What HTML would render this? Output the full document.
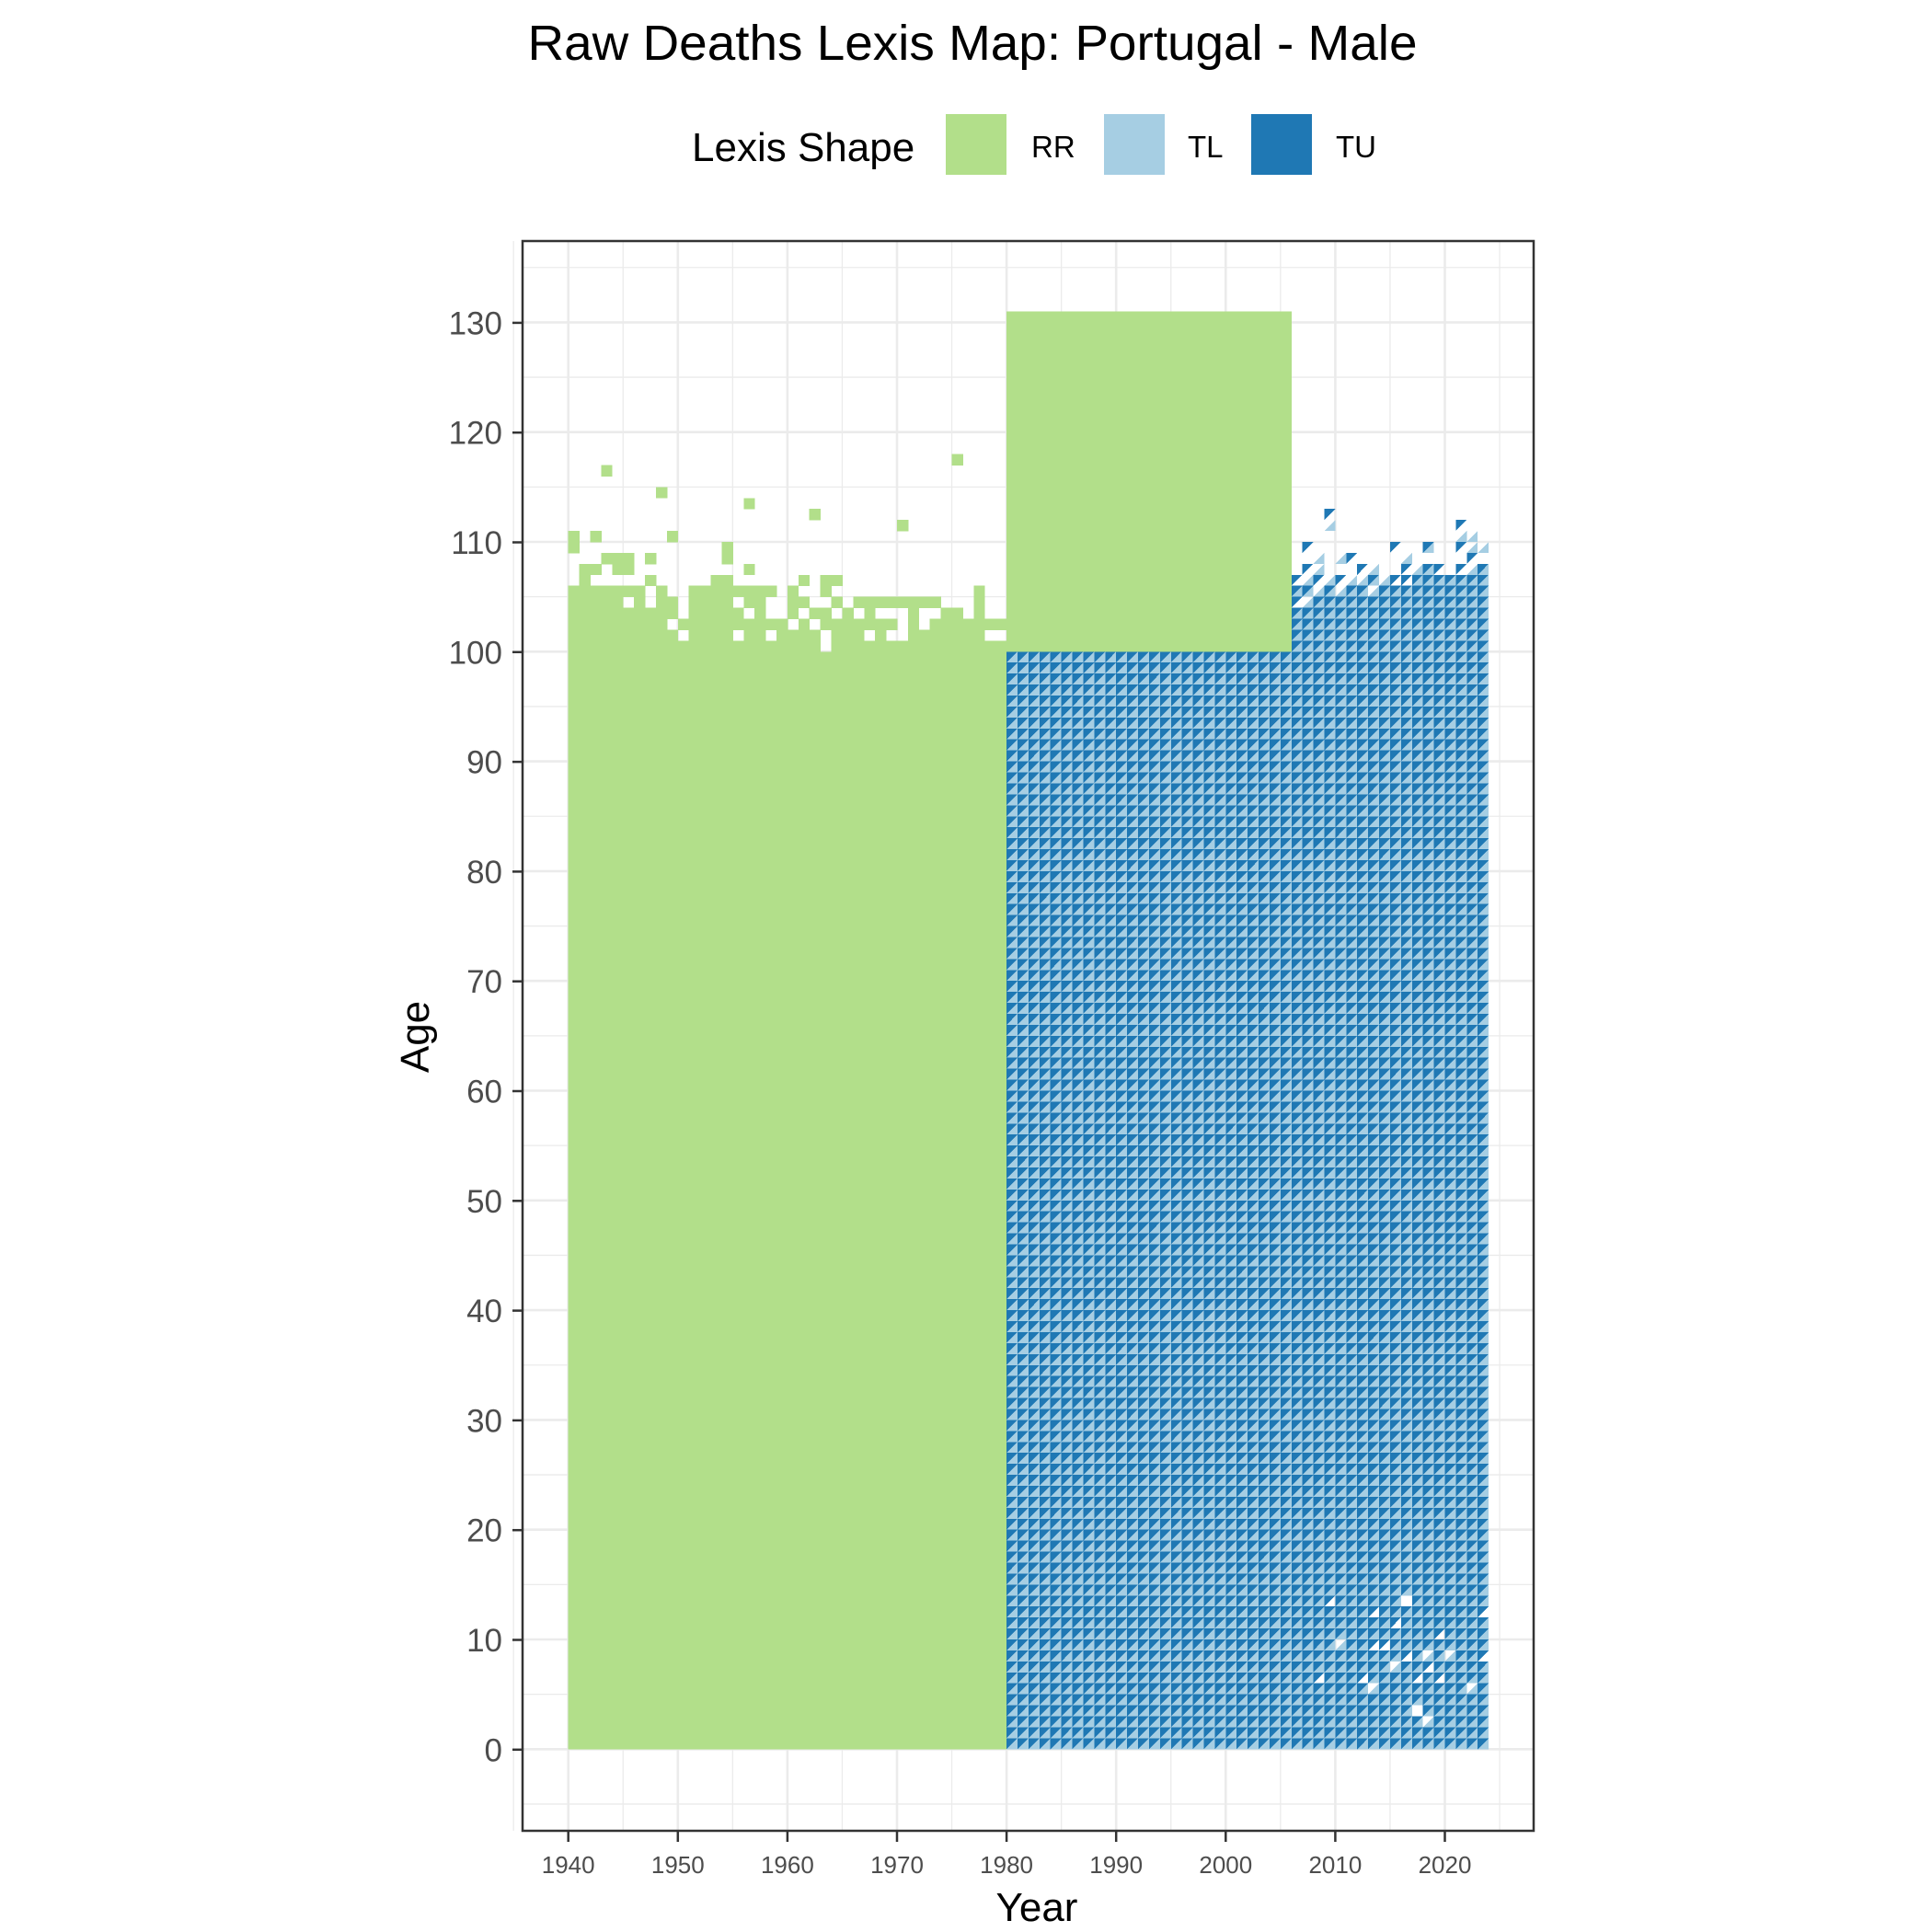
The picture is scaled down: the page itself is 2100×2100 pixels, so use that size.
<!DOCTYPE html>
<html><head><meta charset="utf-8"><title>Raw Deaths Lexis Map: Portugal - Male</title>
<style>html,body{margin:0;padding:0;background:#fff}svg{display:block}text{font-family:"Liberation Sans",Arial,sans-serif}</style>
</head><body>
<svg id="chart" xmlns="http://www.w3.org/2000/svg" width="2100" height="2100" viewBox="0 0 2100 2100">
<rect x="0" y="0" width="2100" height="2100" fill="#fff"/>
<text x="1057" y="65" font-size="54" text-anchor="middle" fill="#000" textLength="967" lengthAdjust="spacingAndGlyphs">Raw Deaths Lexis Map: Portugal - Male</text>
<g>
<text x="752" y="175" font-size="44" fill="#000">Lexis Shape</text>
<rect x="1028" y="124" width="66" height="66" fill="#b2df8a"/>
<text x="1121" y="171" font-size="33" fill="#000">RR</text>
<rect x="1200" y="124" width="66" height="66" fill="#a6cee3"/>
<text x="1291" y="171" font-size="33" fill="#000">TL</text>
<rect x="1360" y="124" width="66" height="66" fill="#1f78b4"/>
<text x="1452" y="171" font-size="33" fill="#000">TU</text>
</g>
<g id="grid"></g>
<g id="marks" shape-rendering="crispEdges"></g>
<rect x="568" y="262" width="1099" height="1728" fill="none" stroke="#333" stroke-width="2.5"/>
<g id="axes"></g>
<text x="1127" y="2088" font-size="44" text-anchor="middle" fill="#000">Year</text>
<text x="466" y="1127" font-size="44" text-anchor="middle" fill="#000" transform="rotate(-90 466 1127)">Age</text>
</svg>
<script>
// ---- data ----
const xTicks = [1940,1950,1960,1970,1980,1990,2000,2010,2020];
const yTicks = [0,10,20,30,40,50,60,70,80,90,100,110,120,130];
const rrYears = [1940,1941,1942,1943,1944,1945,1946,1947,1948,1949,1950,1951,1952,1953,1954,1955,1956,1957,1958,1959,1960,1961,1962,1963,1964,1965,1966,1967,1968,1969,1970,1971,1972,1973,1974,1975,1976,1977,1978,1979];
const rrBaseTop = 100;
const rrUpperAges = [
[100,101,102,103,104,105,109,110],[100,101,102,103,104,105,106,107],[100,101,102,103,104,105,107,110],[100,101,102,103,104,105,108,116],
[100,101,102,103,104,105,107,108],[100,101,102,103,105,107,108],[100,101,102,103,104,105],[100,101,102,103,106,108],
[100,101,102,103,104,105,114],[100,101,103,104,110],[100,102],[100,101,102,103,104,105],
[100,101,102,103,104,105],[100,101,102,103,104,105,106],[100,101,102,103,104,105,106,108,109],[100,102,103,105],
[100,101,102,104,105,107,113],[100,101,102,103,104,105],[100,102,105],[100,101,102],
[100,101,103,104,105],[100,101,102,104,106],[100,101,103,112],[102,103,105,106],
[100,101,102,104,106],[100,101,102,103],[100,101,102,104],[100,102,103,104],
[100,101,102,104],[100,102,104],[100,104,111],[100,101,102,103,104],
[100,101,104],[100,101,102,104],[100,101,102,103],[100,101,102,103,117],
[100,101,102],[100,101,102,103,104,105],[100,102],[100,102]
];
const rrBlock = [1980, 2006, 100, 131]; // year start, year end, age start, age end
const blueYears = [];
for (let y = 1980; y <= 2023; y++) blueYears.push(y);
const blueFullTop = [100,100,100,100,100,100,100,100,100,100,100,100,100,100,100,100,100,100,100,100,100,100,100,100,100,100,
104,104,105,105,105,105,105,105,105,106,106,107,107,106,107,107,107,107];
const blueExtra = [
[2006,104,'U'],[2006,105,'B'],[2006,106,'U'],
[2007,104,'L'],[2007,105,'B'],[2007,106,'L'],[2007,107,'U'],[2007,109,'U'],
[2008,105,'L'],[2008,106,'U'],[2008,107,'L'],[2008,108,'L'],
[2009,105,'B'],[2009,106,'L'],[2009,111,'L'],[2009,112,'U'],
[2010,105,'L'],[2010,106,'U'],[2010,108,'L'],
[2011,105,'B'],[2011,106,'L'],[2011,108,'U'],
[2012,105,'B'],[2012,106,'L'],[2012,107,'U'],
[2013,105,'L'],[2013,106,'B'],[2013,107,'L'],
[2014,105,'B'],[2014,106,'L'],
[2015,106,'U'],[2015,109,'U'],
[2016,106,'U'],[2016,107,'U'],[2016,108,'L'],
[2017,107,'L'],
[2018,107,'B'],[2018,109,'B'],
[2019,106,'B'],[2019,107,'U'],
[2021,107,'U'],[2021,109,'U'],[2021,110,'L'],[2021,111,'U'],
[2022,107,'L'],[2022,108,'U'],[2022,109,'L'],[2022,110,'L'],
[2023,107,'B'],[2023,109,'L']
];
const blueHoles = [
[2009,13,'L'],[2016,13,'B'],[2013,12,'L'],[2023,12,'L'],[2015,11,'L'],[2019,10,'L'],
[2010,9,'U'],[2013,9,'L'],[2014,9,'L'],[2016,8,'L'],[2018,8,'U'],[2020,8,'U'],[2023,8,'L'],
[2015,7,'U'],[2018,7,'L'],[2008,6,'L'],[2012,6,'L'],[2017,6,'L'],[2019,6,'L'],
[2013,5,'U'],[2022,5,'U'],[2017,3,'B'],[2018,2,'U']
];
// ---- scales ----
const NS = 'http://www.w3.org/2000/svg';
const X0 = 617.7, XS = 11.91, Y0 = 1901.3, YS = 11.93;
const PL = 568, PR = 1667, PT = 262, PB = 1990;
function xs(v){ return X0 + XS*(v-1940); }
function ys(v){ return Y0 - YS*v; }
function mk(tag, attrs, parent){ const e = document.createElementNS(NS, tag); for (const k in attrs) e.setAttribute(k, attrs[k]); parent.appendChild(e); return e; }
const grid = document.getElementById('grid');
const marks = document.getElementById('marks');
const axes = document.getElementById('axes');
// grid
for (let v = 1935; v <= 2025; v += 5) {
  const major = v % 10 === 0;
  const l = mk('line', {x1: xs(v), x2: xs(v), y1: PT, y2: PB, stroke: '#ebebeb', 'stroke-width': major ? 2.6 : 1.3}, grid);
  
  
}
for (let v = -5; v <= 135; v += 5) {
  const major = v % 10 === 0;
  const l = mk('line', {x1: PL, x2: PR, y1: ys(v), y2: ys(v), stroke: '#ebebeb', 'stroke-width': major ? 2.6 : 1.3}, grid);
  
  
}
// RR cells
const GREEN = '#b2df8a', TLC = '#a6cee3', TUC = '#1f78b4';
rrYears.forEach((yr, i) => {
  const base = mk('rect', {x: xs(yr), y: ys(rrBaseTop), width: XS+0.4, height: ys(0)-ys(rrBaseTop), fill: GREEN}, marks);
  
  
  rrUpperAges[i].forEach(a => {
    const c = mk('rect', {x: xs(yr), y: ys(a+1), width: XS+0.4, height: YS+0.4, fill: GREEN}, marks);
    
    
  });
});
const blk = mk('rect', {x: xs(rrBlock[0]), y: ys(rrBlock[3]), width: xs(rrBlock[1])-xs(rrBlock[0]), height: ys(rrBlock[2])-ys(rrBlock[3]), fill: GREEN}, marks);


// triangles
const holeSet = {};
blueHoles.forEach(h => { holeSet[h[0]+'_'+h[1]] = h[2]; });
function tri(yr, a, type){
  const x1 = xs(yr), x2 = xs(yr+1), yt = ys(a+1), yb = ys(a);
  const hole = holeSet[yr+'_'+a];
  if (type !== 'L' && hole !== 'U' && hole !== 'B') {
    const p = mk('polygon', {points: `${x1},${yt} ${x2},${yt} ${x1},${yb}`, fill: TUC}, marks);
    
    
  }
  if (type !== 'U' && hole !== 'L' && hole !== 'B') {
    const p = mk('polygon', {points: `${x2},${yt} ${x2},${yb} ${x1},${yb}`, fill: TLC}, marks);
    
    
  }
}
blueYears.forEach((yr, i) => {
  for (let a = 0; a < blueFullTop[i]; a++) tri(yr, a, 'B');
});
blueExtra.forEach(e => tri(e[0], e[1], e[2]));
// axes ticks & labels
xTicks.forEach(v => {
  const t = mk('line', {x1: xs(v), x2: xs(v), y1: PB, y2: PB+12, stroke: '#333', 'stroke-width': 2.5}, axes);
  
  
  const l = mk('text', {x: xs(v), y: 2036, 'font-size': 26, 'text-anchor': 'middle', fill: '#4d4d4d'}, axes);
  l.textContent = v;
  
  
});
yTicks.forEach(v => {
  const t = mk('line', {x1: PL-11, x2: PL, y1: ys(v)+0.5, y2: ys(v)+0.5, stroke: '#333', 'stroke-width': 2.5}, axes);
  
  
  const l = mk('text', {x: 546, y: ys(v)+13, 'font-size': 35, 'text-anchor': 'end', fill: '#4d4d4d'}, axes);
  l.textContent = v;
  
  
});
</script>
</body></html>
